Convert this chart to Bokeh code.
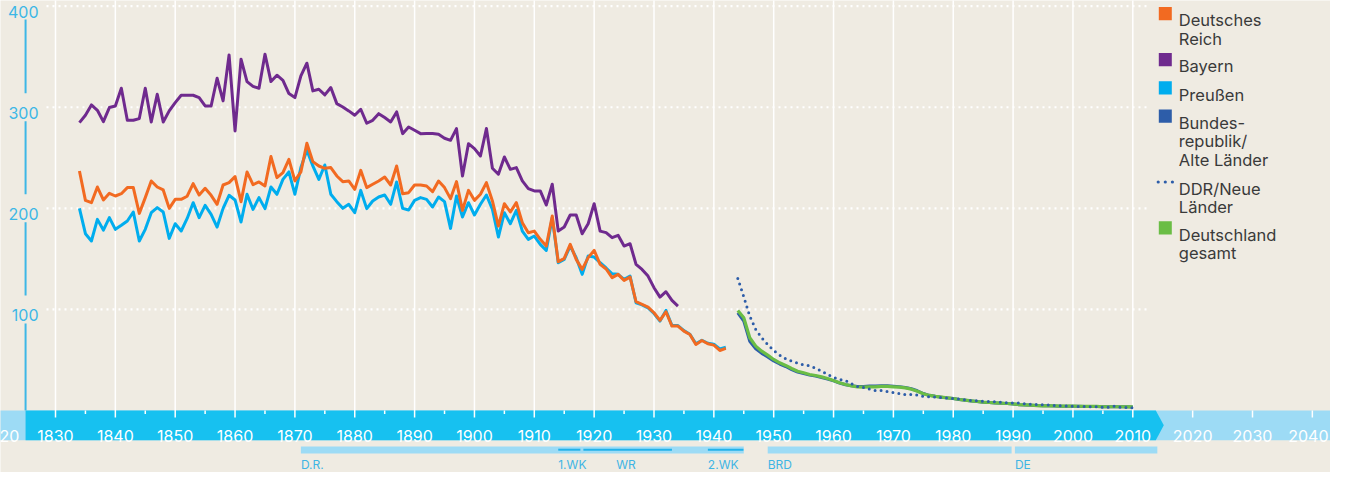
from bokeh.plotting import figure
from bokeh.models import Range1d
from bokeh.core.properties import value
from bokeh.embed import file_html
from bokeh.resources import INLINE

# ---------------- data (per 1000 live births) ----------------
years_bayern = list(range(1834, 1935))
bayern = [
    284.8, 292.1, 302.3, 297.0, 285.8, 299.7, 301.3, 318.8, 287.1, 287.1,
    288.8, 318.8, 285.5, 312.9, 285.5, 296.4, 304.6, 311.9, 311.9, 311.9,
    309.6, 301.3, 301.3, 328.7, 306.3, 351.8, 276.6, 347.5, 325.4, 320.6,
    318.8, 352.5, 325.4, 331.7, 326.7, 313.5, 309.6, 331.0, 343.6, 316.2,
    317.8, 312.2, 319.5, 303.6, 300.3, 296.4, 292.1, 298.0, 284.2, 287.1,
    293.7, 289.8, 285.5, 295.4, 273.9, 280.5, 277.2, 273.9, 274.0, 274.0,
    273.3, 269.3, 267.3, 278.9, 232.0, 264.0, 259.1, 251.8, 278.9, 239.6,
    233.7, 250.8, 238.6, 240.3, 227.1, 219.5, 217.2, 217.2, 203.3, 223.8,
    177.5, 181.5, 193.4, 193.4, 174.9, 184.8, 204.6, 177.5, 176.0, 171.0,
    173.3, 162.7, 165.0, 144.6, 139.6, 133.0, 121.5, 112.2, 117.5, 108.9,
    103.3,
]

years_reich = list(range(1834, 1943))
reich = [
    237.0, 207.9, 205.6, 221.1, 208.3, 214.9, 212.2, 214.5, 220.5, 220.5,
    195.0, 210.6, 227.1, 221.1, 218.2, 200.0, 208.9, 208.9, 212.0, 224.4,
    213.2, 219.8, 212.9, 204.0, 223.1, 225.4, 231.4, 206.6, 236.0, 223.5,
    226.1, 222.1, 251.2, 230.4, 235.3, 248.5, 227.1, 236.0, 264.4, 246.2,
    241.9, 239.6, 240.3, 232.0, 226.4, 227.1, 218.8, 237.6, 220.5, 223.8,
    227.1, 231.0, 223.1, 241.9, 214.5, 215.5, 223.1, 223.1, 222.1, 216.5,
    227.1, 220.5, 209.6, 226.4, 198.0, 217.8, 207.9, 213.9, 225.4, 207.3,
    182.5, 204.6, 196.4, 205.6, 185.8, 175.9, 177.5, 169.3, 162.7, 192.4,
    147.2, 150.5, 164.4, 149.5, 139.6, 151.2, 158.4, 144.6, 140.0, 131.4,
    134.7, 128.7, 132.0, 107.6, 105.0, 102.3, 96.7, 89.1, 97.7, 83.5,
    83.5, 78.5, 75.2, 65.3, 69.3, 66.0, 64.7, 59.4, 61.4,
]

years_preussen = list(range(1834, 1943))
preussen = [
    200.0, 174.9, 167.7, 189.1, 178.5, 190.8, 179.2, 183.2, 187.5, 196.4,
    167.7, 179.2, 195.7, 200.7, 196.4, 170.3, 184.8, 177.6, 190.0, 205.6,
    190.8, 203.0, 194.1, 181.5, 200.0, 212.9, 208.3, 186.5, 213.9, 199.0,
    210.6, 199.7, 221.1, 213.9, 228.7, 236.0, 213.9, 240.3, 257.4, 241.9,
    228.7, 242.9, 213.9, 206.6, 200.0, 204.0, 195.7, 217.8, 199.7, 207.3,
    211.2, 213.2, 204.0, 226.1, 200.0, 198.3, 207.9, 210.6, 208.9, 201.3,
    211.2, 206.6, 180.2, 212.2, 191.4, 205.6, 193.4, 204.0, 213.2, 199.0,
    171.6, 195.7, 184.8, 198.0, 177.5, 169.3, 172.6, 164.4, 158.4, 190.8,
    146.2, 149.5, 162.7, 151.2, 134.7, 152.8, 151.8, 146.2, 141.0, 135.3,
    134.7, 129.7, 133.0, 106.6, 104.5, 101.5, 96.0, 88.5, 99.0, 84.0,
    84.0, 79.0, 75.5, 66.0, 69.5, 66.5, 65.5, 61.0, 62.5,
]

years_post = list(range(1944, 2011))
brd = [
    96.7, 88.5, 68.5, 61.0, 56.5, 53.0, 49.0, 46.0, 43.5, 40.5,
    38.0, 36.5, 35.0, 34.0, 32.7, 31.0, 29.3, 27.2, 25.5, 24.5,
    23.8, 23.8, 24.2, 24.2, 24.4, 24.4, 24.0, 23.6, 22.8, 21.5,
    19.5, 16.8, 15.0, 14.0, 13.2, 12.5, 11.8, 10.8, 10.1, 9.5,
    8.8, 8.1, 7.8, 7.5, 7.2, 6.8, 6.5, 5.8, 5.5, 5.2,
    4.9, 4.6, 4.6, 4.5, 4.3, 4.3, 4.3, 4.2, 4.0, 4.0,
    4.0, 3.7, 3.7, 3.7, 3.6, 3.6, 3.5,
]
ddr = [
    130.7, 112.5, 93.4, 80.2, 72.0, 65.3, 59.4, 54.8, 51.2, 48.8,
    46.9, 45.2, 44.2, 41.9, 38.9, 35.6, 32.7, 30.7, 29.7, 26.4,
    23.8, 22.8, 21.1, 19.8, 19.8, 18.8, 17.8, 16.8, 15.8, 15.8,
    15.2, 13.9, 13.5, 13.2, 12.9, 12.2, 11.9, 11.2, 10.6, 9.9,
    9.6, 9.2, 8.8, 8.6, 8.1, 7.6, 7.4, 7.3, 6.6, 6.1,
    5.9, 5.6, 5.3, 4.9, 4.6, 4.3, 4.3, 4.0, 4.0, 3.6,
    3.6, 3.3, 3.3, 4.3, 3.0, 3.0, 2.6,
]
gesamt = [
    99.0, 91.7, 72.0, 63.7, 58.7, 54.8, 50.5, 47.2, 44.6, 41.6,
    38.9, 37.3, 35.6, 34.6, 33.3, 31.7, 29.7, 27.4, 25.7, 24.4,
    23.4, 23.1, 23.4, 23.4, 23.8, 23.8, 23.4, 23.1, 22.4, 21.1,
    19.1, 16.5, 14.9, 13.9, 13.2, 12.5, 11.9, 10.9, 10.2, 9.6,
    8.9, 8.2, 7.9, 7.6, 7.3, 6.9, 6.6, 5.9, 5.6, 5.3,
    4.9, 4.6, 4.6, 4.5, 4.3, 4.3, 4.3, 4.2, 4.0, 4.0,
    4.0, 3.7, 3.7, 3.7, 3.7, 3.6, 3.5,
]

y_ticks = [100, 200, 300, 400]
x_label_years = [1830, 1840, 1850, 1860, 1870, 1880, 1890, 1900, 1910, 1920,
                 1930, 1940, 1950, 1960, 1970, 1980, 1990, 2000, 2010, 2020, 2030]
last_label_year = 2040
cut_label = "20"   # remainder of "1820", cut by the left edge in the original
grid_years = [1830, 1840, 1850, 1860, 1870, 1880, 1890, 1900, 1910, 1920,
              1930, 1940, 1950, 1960, 1970, 1980, 1990, 2000, 2010]
future_years = [2020, 2030, 2040]
minor_years = [1835, 1845, 1855, 1865, 1875, 1885, 1895, 1905, 1915, 1925,
               1935, 1945, 1955, 1965, 1975, 1985, 1995, 2005]

periods = [("D.R.", 1871, 1945), ("BRD", 1949, 1989.75), ("DE", 1990.3, 2014.1)]
wars = [("1.WK", 1914, 1917.7), ("WR", 1918.2, 1933.0), ("2.WK", 1939.0, 1944.95)]
period_labels = [("D.R.", 1871), ("1.WK", 1914), ("WR", 1923.7), ("2.WK", 1939.0),
                 ("BRD", 1949), ("DE", 1990.3)]

legend_items = [
    ("Deutsches\nReich", "#f26a21", "box"),
    ("Bayern", "#6f2a8e", "box"),
    ("Preußen", "#00adee", "box"),
    ("Bundes-\nrepublik/\nAlte Länder", "#2d5da9", "box"),
    ("DDR/Neue\nLänder", "#2d5da9", "dots"),
    ("Deutschland\ngesamt", "#6abd45", "box"),
]

# ---------------- styling ----------------
BG = "#efebe2"
BAND = "#17c1f0"
BAND_LIGHT = "#9ddbf5"
AXIS_BLUE = "#3db7e6"
FONT = value("Inter")
TOP = 16  # reference pixel row shown at the top of the figure

# pixel helpers (reference-picture coordinates -> data coordinates)
def dx(px):
    return 1830 + (px - 55) / 5.985

def dy(py):
    return (426 - py) / 1.0108

p = figure(width=1330, height=472, output_backend="svg", toolbar_location=None,
           x_range=Range1d(dx(0), dx(1330)), y_range=Range1d(dy(TOP + 472), dy(TOP)),
           x_axis_location=None, y_axis_location=None, min_border=0,
           background_fill_color=BG, border_fill_color=BG, outline_line_color=None)
p.xgrid.visible = False
p.ygrid.visible = False

# timeline band
p.quad(left=[dx(-20)], right=[dx(1360)], top=[0], bottom=[dy(455.7)],
       fill_color=BAND_LIGHT, line_color=None)
p.patch(x=[1825, dx(1155.3), dx(1163.3), dx(1155.3), 1825],
        y=[0, 0, dy(440.85), dy(455.7), dy(455.7)],
        fill_color=BAND, line_color=None)

# vertical grid + ticks
p.segment(x0=grid_years, x1=grid_years, y0=[dy(433)] * len(grid_years),
          y1=[dy(10)] * len(grid_years), line_color="white", line_width=1.5)
p.segment(x0=future_years, x1=future_years, y0=[dy(433)] * 3, y1=[0] * 3,
          line_color="white", line_width=1.5)
p.segment(x0=minor_years, x1=minor_years, y0=[dy(429.5)] * len(minor_years),
          y1=[0] * len(minor_years), line_color="white", line_width=1.5)

# horizontal dotted grid
p.segment(x0=[dx(46)] * 4, x1=[dx(1147)] * 4, y0=y_ticks, y1=y_ticks,
          line_color="white", line_width=2.2, line_dash="2 4")

# y axis line broken around labels
gap = 14 / 1.0108
segs_top = [dy(35), y_ticks[2] - gap, y_ticks[1] - gap, y_ticks[0] - gap]
segs_bot = [y_ticks[2] + gap, y_ticks[1] + gap, y_ticks[0] + gap, 0]
p.segment(x0=[1825] * 4, x1=[1825] * 4, y0=segs_top, y1=segs_bot,
          line_color=AXIS_BLUE, line_width=2)
p.text(x=[dx(38)] * 4, y=[t - 5.7 / 1.0108 for t in y_ticks], text=[str(t) for t in y_ticks],
       text_font=FONT, text_font_size="16px", text_color=AXIS_BLUE,
       text_align="right", text_baseline="alphabetic")

# x labels in band
p.text(x=x_label_years, y=[dy(451)] * len(x_label_years), text=[str(v) for v in x_label_years],
       text_font=FONT, text_font_size="16px", text_color="white",
       text_align="center", text_baseline="alphabetic")
p.text(x=[dx(1328)], y=[dy(451)], text=[str(last_label_year)], text_font=FONT,
       text_font_size="16px", text_color="white", text_align="right",
       text_baseline="alphabetic")
p.text(x=[dx(-1)], y=[dy(451)], text=[cut_label], text_font=FONT, text_font_size="16px",
       text_color="white", text_align="left", text_baseline="alphabetic")

# period bars
p.quad(left=[a for _, a, b in periods], right=[b for _, a, b in periods],
       top=[dy(462)] * len(periods), bottom=[dy(469)] * len(periods),
       fill_color=BAND_LIGHT, line_color=None)
p.segment(x0=[a for _, a, b in wars], x1=[b for _, a, b in wars],
          y0=[dy(465.2)] * 3, y1=[dy(465.2)] * 3, line_color="#22b2ea", line_width=2)
p.text(x=[a for _, a in period_labels], y=[dy(480.3)] * len(period_labels),
       text=[t for t, _ in period_labels], text_font=FONT, text_font_size="12px",
       text_color="#3fb5e4", text_align="left", text_baseline="alphabetic")

# data lines
lw = 3
p.line(years_preussen, preussen, line_color="#00adee", line_width=lw, line_join="round")
p.line(years_reich, reich, line_color="#f26a21", line_width=lw, line_join="round")
p.line(years_bayern, bayern, line_color="#6f2a8e", line_width=lw, line_join="round")
p.line(years_post, brd, line_color="#2d5da9", line_width=lw, line_join="round")
p.line(years_post, gesamt, line_color="#6abd45", line_width=3.2, line_join="round")
p.line(years_post, ddr, line_color="#2d5da9", line_width=3, line_dash="0 6",
       line_cap="round")

# legend
base_lines = [35.7, 81.7, 110.0, 138.3, 204.3, 250.0]
line_step = 18.5
for (label, color, kind), b in zip(legend_items, base_lines):
    parts = label.split("\n")
    p.text(x=[dx(1178.3)] * len(parts), y=[dy(b + i * line_step) for i in range(len(parts))],
           text=parts, text_font=FONT, text_font_size="16.5px", text_color="#3a3a3a",
           text_align="left", text_baseline="alphabetic")
    if kind == "box":
        p.quad(left=[dx(1158.3)], right=[dx(1171.3)], top=[dy(b - 13.2)], bottom=[dy(b)],
               fill_color=color, line_color=None)
    else:
        p.scatter(x=[dx(1157.7), dx(1164.8), dx(1171.9)], y=[dy(b - 6.8)] * 3,
                  size=3.2, marker="circle", fill_color=color, line_color=None)

open("out.html", "w", encoding="utf-8").write(file_html(p, INLINE))
